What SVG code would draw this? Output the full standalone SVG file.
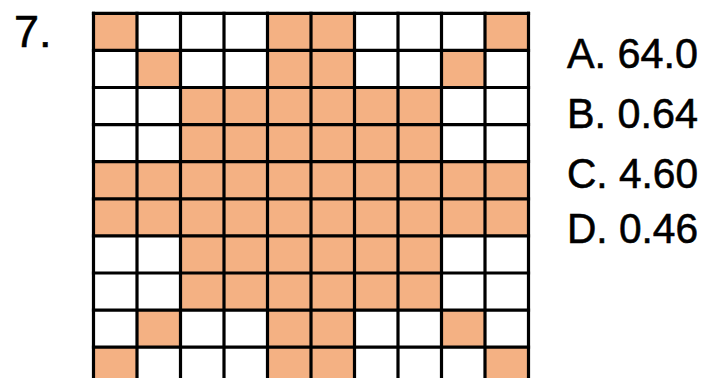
<svg xmlns="http://www.w3.org/2000/svg" width="707" height="378" viewBox="0 0 707 378">
<style>
.f{fill:#F4B183}
.g{stroke:#000;stroke-width:3.2;fill:none;stroke-linecap:square}
.t{font-family:"Comic Sans MS","Liberation Sans","DejaVu Sans",sans-serif;fill:#000;stroke:#000;stroke-width:0.6}
</style>
<rect x="0" y="0" width="707" height="378" fill="#fff"/>
<g id="cells">
<rect class="f" x="93.5" y="13.3" width="43.5" height="37.1"/>
<rect class="f" x="267.5" y="13.3" width="87" height="37.1"/>
<rect class="f" x="485" y="13.3" width="43.5" height="37.1"/>
<rect class="f" x="137" y="50.4" width="43.5" height="37.1"/>
<rect class="f" x="267.5" y="50.4" width="87" height="37.1"/>
<rect class="f" x="441.5" y="50.4" width="43.5" height="37.1"/>
<rect class="f" x="180.5" y="87.5" width="261" height="74.2"/>
<rect class="f" x="93.5" y="161.7" width="435" height="74.2"/>
<rect class="f" x="180.5" y="235.9" width="261" height="74.2"/>
<rect class="f" x="137" y="310.1" width="43.5" height="37.1"/>
<rect class="f" x="267.5" y="310.1" width="87" height="37.1"/>
<rect class="f" x="441.5" y="310.1" width="43.5" height="37.1"/>
<rect class="f" x="93.5" y="347.2" width="43.5" height="37.1"/>
<rect class="f" x="267.5" y="347.2" width="87" height="37.1"/>
<rect class="f" x="485" y="347.2" width="43.5" height="37.1"/>
</g>
<g id="grid" class="g">
<path d="M93.5 13.3H528.5M93.5 50.4H528.5M93.5 87.5H528.5M93.5 124.6H528.5M93.5 161.7H528.5M93.5 198.8H528.5M93.5 235.9H528.5M93.5 273H528.5M93.5 310.1H528.5M93.5 347.2H528.5"/>
<path d="M93.5 13.3V390M137 13.3V390M180.5 13.3V390M224 13.3V390M267.5 13.3V390M311 13.3V390M354.5 13.3V390M398 13.3V390M441.5 13.3V390M485 13.3V390M528.5 13.3V390"/>
</g>
<g id="labels">
<text class="t" x="14" y="47" font-size="45">7.</text>
<text class="t" x="567" y="68" font-size="43" textLength="131" lengthAdjust="spacingAndGlyphs">A. 64.0</text>
<text class="t" x="567" y="128" font-size="43" textLength="131" lengthAdjust="spacingAndGlyphs">B. 0.64</text>
<text class="t" x="567" y="188" font-size="43" textLength="131" lengthAdjust="spacingAndGlyphs">C. 4.60</text>
<text class="t" x="567" y="243" font-size="43" textLength="131" lengthAdjust="spacingAndGlyphs">D. 0.46</text>
</g>
</svg>
